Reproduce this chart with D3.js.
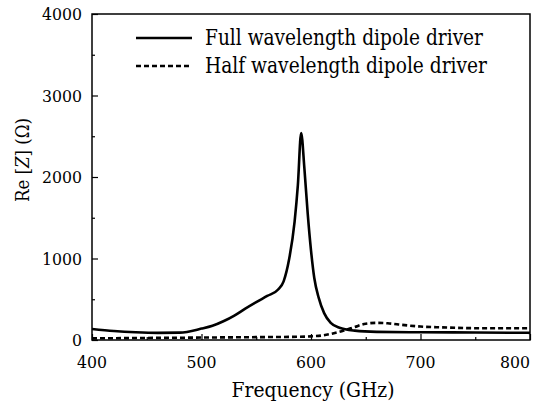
<!DOCTYPE html>
<html>
<head>
<meta charset="utf-8">
<script src="https://cdn.jsdelivr.net/npm/d3@7"></script>
<style>
  body { margin: 0; background: #fff; }
  svg { display: block; }
</style>
</head>
<body>
<svg id="chart" width="542" height="405"></svg>
<script>
// full wavelength dipole driver, Re[Z] vs frequency (GHz)
const fullFreq = [400, 420, 440, 460, 480, 500, 510, 520, 530, 540, 550, 560, 570, 575, 580, 585, 588, 591, 594, 597, 600, 603, 607, 612, 618, 626, 640, 660, 700, 750, 800];
const fullRe   = [135, 110, 95, 88, 90, 140, 175, 230, 300, 385, 465, 540, 620, 720, 990, 1450, 1900, 2540, 2100, 1550, 1100, 760, 520, 330, 210, 150, 115, 100, 95, 92, 88];

// half wavelength dipole driver
const halfFreq = [400, 450, 500, 550, 590, 600, 610, 620, 630, 640, 650, 660, 670, 680, 700, 720, 750, 800];
const halfRe   = [20, 25, 30, 35, 40, 45, 55, 80, 115, 160, 200, 210, 205, 190, 165, 155, 145, 145];

const xMajor = [400, 500, 600, 700, 800];
const xMinor = [450, 550, 650, 750];
const yMajor = [0, 1000, 2000, 3000, 4000];
const yMinor = [500, 1500, 2500, 3500];

const legendLabels = ["Full wavelength dipole driver", "Half wavelength dipole driver"];

// only DejaVu Serif resolves here, so squeeze it to the Times-like widths
const serif = "'DejaVu Serif', serif";
const svg = d3.select("#chart").style("font-family", serif);
const plotL = 92, plotR = 530, plotT = 14, plotB = 340;

const x = d3.scaleLinear().domain([400, 800]).range([plotL, plotR]);
const y = d3.scaleLinear().domain([0, 4000]).range([plotB, plotT]);

// frame
svg.append("rect")
    .attr("x", plotL).attr("y", plotT)
    .attr("width", plotR - plotL).attr("height", plotB - plotT)
    .attr("fill", "none").attr("stroke", "#000").attr("stroke-width", 1.5);

// x axis, ticks pointing inward
const xAxis = svg.append("g").attr("transform", `translate(0,${plotB})`);
xAxis.call(d3.axisTop(x).tickValues(xMajor).tickSize(6).tickFormat(""))
    .call(g => g.select(".domain").remove());
xAxis.append("g").call(d3.axisTop(x).tickValues(xMinor).tickSize(3).tickFormat(""))
    .call(g => g.select(".domain").remove());
xAxis.selectAll("line").attr("stroke-width", 1.2);

svg.selectAll(".xlab")
    .data(xMajor)
    .enter().append("text")
    .attr("class", "xlab")
    .attr("x", d => x(d))
    .attr("y", 368)
    .attr("text-anchor", (d, i) => i === xMajor.length - 1 ? "end" : "middle")
    .style("font-family", serif)
    .attr("font-size", 17)
    .attr("textLength", d => String(d).length * 10)
    .attr("lengthAdjust", "spacingAndGlyphs")
    .text(d => d);

// y axis, ticks pointing inward
const yAxis = svg.append("g").attr("transform", `translate(${plotL},0)`);
yAxis.call(d3.axisRight(y).tickValues(yMajor).tickSize(6).tickFormat(""))
    .call(g => g.select(".domain").remove());
yAxis.append("g").call(d3.axisRight(y).tickValues(yMinor).tickSize(3).tickFormat(""))
    .call(g => g.select(".domain").remove());
yAxis.selectAll("line").attr("stroke-width", 1.2);

svg.selectAll(".ylab")
    .data(yMajor)
    .enter().append("text")
    .attr("class", "ylab")
    .attr("x", 82)
    .attr("y", d => y(d) + 6)
    .attr("text-anchor", "end")
    .style("font-family", serif)
    .attr("font-size", 17)
    .attr("textLength", d => String(d).length * 10)
    .attr("lengthAdjust", "spacingAndGlyphs")
    .text(d => d);

// axis titles
svg.append("text")
    .attr("x", 313).attr("y", 397)
    .attr("text-anchor", "middle")
    .style("font-family", serif)
    .attr("font-size", 21)
    .attr("textLength", 163)
    .attr("lengthAdjust", "spacingAndGlyphs")
    .text("Frequency (GHz)");

const yTitle = svg.append("text")
    .attr("transform", "translate(29,160) rotate(-90)")
    .attr("text-anchor", "middle")
    .style("font-family", serif)
    .attr("font-size", 18)
    .attr("textLength", 84)
    .attr("lengthAdjust", "spacingAndGlyphs");
yTitle.append("tspan").text("Re [");
yTitle.append("tspan").attr("font-style", "italic").text("Z");
yTitle.append("tspan").text("] (Ω)");

// curves
const line = d3.line()
    .x(d => x(d[0]))
    .y(d => y(d[1]))
    .curve(d3.curveMonotoneX);

svg.append("path")
    .datum(d3.zip(fullFreq, fullRe))
    .attr("d", line)
    .attr("fill", "none")
    .attr("stroke", "#000")
    .attr("stroke-width", 2.6);

svg.append("path")
    .datum(d3.zip(halfFreq, halfRe))
    .attr("d", line)
    .attr("fill", "none")
    .attr("stroke", "#000")
    .attr("stroke-width", 2.6)
    .attr("stroke-dasharray", "5,3");

// legend
const legendWidths = [278, 282];
const legend = svg.append("g");
legendLabels.forEach((label, i) => {
    const ly = 38 + i * 28;
    legend.append("line")
        .attr("x1", 136).attr("x2", 192)
        .attr("y1", ly).attr("y2", ly)
        .attr("stroke", "#000")
        .attr("stroke-width", 2.6)
        .attr("stroke-dasharray", i === 0 ? null : "5,3");
    legend.append("text")
        .attr("x", 205).attr("y", ly + 7)
        .style("font-family", serif)
        .attr("font-size", 22)
        .attr("textLength", legendWidths[i])
        .attr("lengthAdjust", "spacingAndGlyphs")
        .text(label);
});
</script>
</body>
</html>
